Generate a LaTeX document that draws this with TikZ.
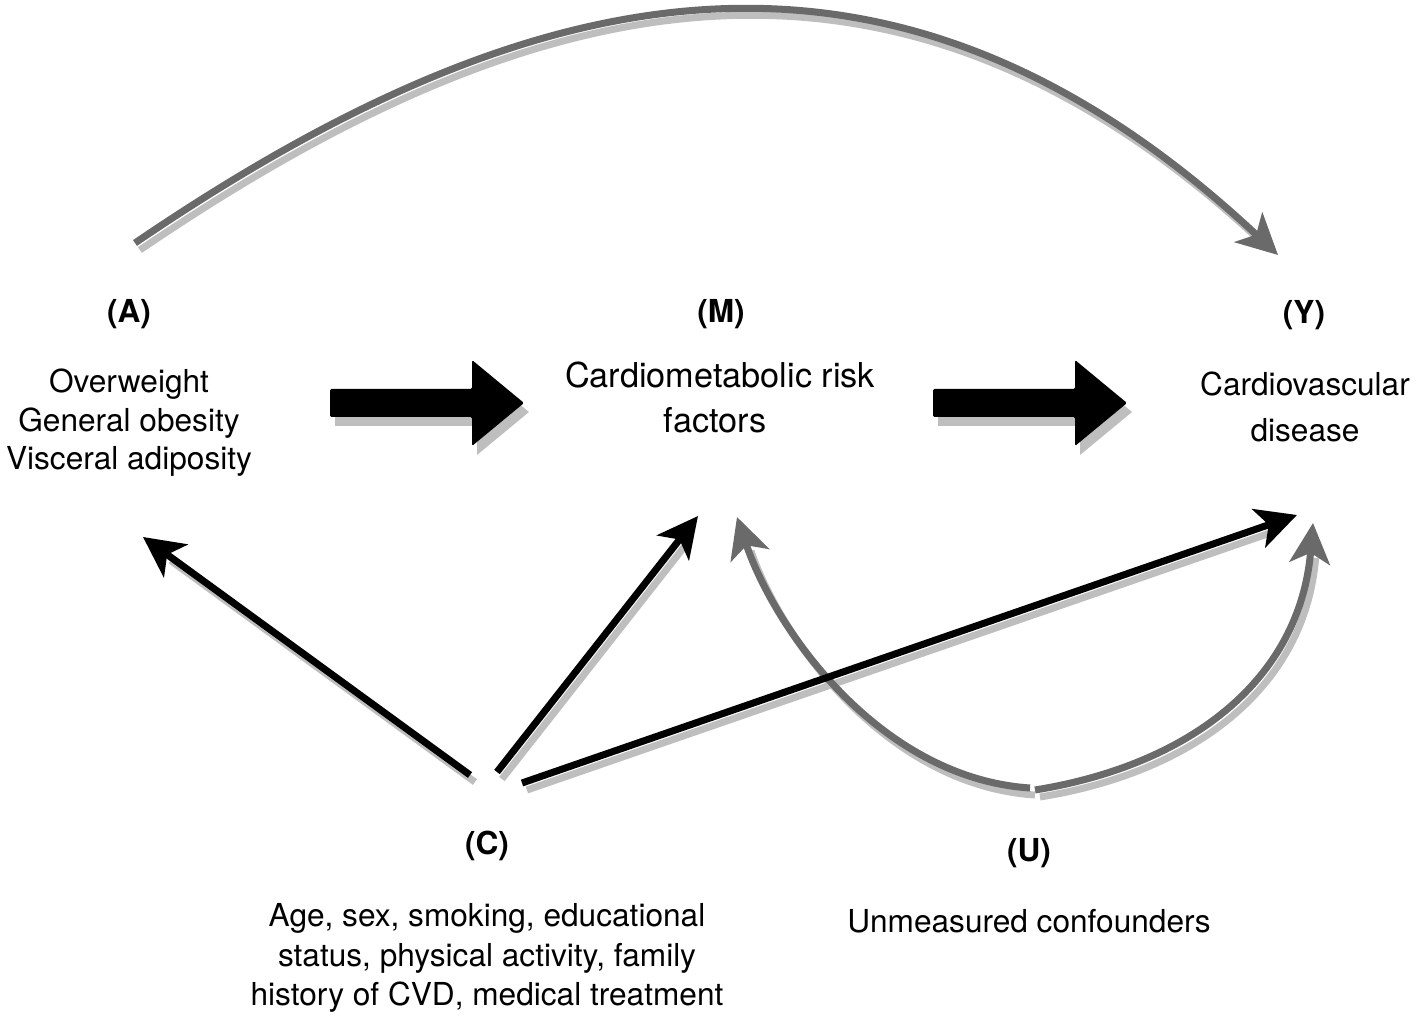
\documentclass[tikz,border=0pt]{standalone}
\usepackage{fontspec}
\setmainfont{TeX Gyre Heros}
\usetikzlibrary{arrows.meta}
\definecolor{arcgray}{HTML}{6A6A6A}
\definecolor{shadegray}{HTML}{BEBEBE}
\tikzset{
  txt/.style={inner sep=0pt, anchor=base, font=\fontsize{18}{22}\selectfont},
  bigtxt/.style={inner sep=0pt, anchor=base, font=\fontsize{19.5}{23}\selectfont},
  lbl/.style={inner sep=0pt, anchor=base, font=\fontsize{18}{22}\selectfont\bfseries},
  headtip/.style={-{Stealth[length=23pt,width=23pt,inset=6pt]}},
  blackarrow/.style={line width=4pt, draw=black, headtip},
  grayarrow/.style={line width=4pt, draw=arcgray, headtip},
  shade/.style={line width=4pt, draw=shadegray, shorten >=16pt,
    transform canvas={xshift=2.8pt,yshift=-4pt}},
  pics/blockarr/.style={code={
    \fill[shadegray] (5,-5) -- (147,-5) -- (147,-34) -- (199,9) -- (147,52) -- (147,23) -- (5,23) -- cycle;
    \fill[black, rounded corners=0.8pt] (0,-14) -- (142,-14) -- (142,-43) -- (194,0) -- (142,43) -- (142,14) -- (0,14) -- cycle;
  }}
}
\begin{document}
\begin{tikzpicture}[x=0.02cm,y=-0.02cm]
\useasboundingbox (0,0) rectangle (1416,1016);

% labels and texts
\node[lbl] (Alab) at (129,323) {(A)};
\node[txt] (A1) at (129,393) {Overweight};
\node[txt] (A2) at (129,432) {General obesity};
\node[txt] (A3) at (129,470) {Visceral adiposity};
\node[lbl] (Mlab) at (721,323) {(M)};
\node[bigtxt] (M1) at (720,388) {Cardiometabolic risk};
\node[bigtxt] (M2) at (715,433) {factors};
\node[lbl] (Ylab) at (1304,324) {(Y)};
\node[txt] (Y1) at (1305,396) {Cardiovascular};
\node[txt] (Y2) at (1305,442) {disease};
\node[lbl] (Clab) at (487,854) {(C)};
\node[txt] (C1) at (487,926) {Age, sex, smoking, educational};
\node[txt] (C2) at (487,966) {status, physical activity, family};
\node[txt] (C3) at (487,1005) {history of CVD, medical treatment};
\node[lbl] (Ulab) at (1029,861) {(U)};
\node[txt] (U1) at (1029,932) {Unmeasured confounders};

% arrow end points
\coordinate (a0) at (135,243);
\coordinate (y0) at (1278,255);
\coordinate (c1) at (470,775);
\coordinate (c2) at (497,772);
\coordinate (c3) at (522,783);
\coordinate (aT) at (143,537);
\coordinate (mT) at (698,516);
\coordinate (yT) at (1297,515);
\coordinate (u1) at (1030,788);
\coordinate (u2) at (1035,790);
\coordinate (mU) at (737,517);
\coordinate (yU) at (1313,523);

% block arrows
\pic (AM) at (330,403) {blockarr};
\pic (MY) at (933,403) {blockarr};

% shadows
\draw[shade] (a0) .. controls (526,-23) and (887,-111) .. (y0);
\draw[shade] (u1) .. controls (880,778) and (775,630) .. (mU);
\draw[shade] (u2) .. controls (1190,765) and (1300,680) .. (yU);
\draw[shade] (c1) -- (aT);
\draw[shade] (c2) -- (mT);
\draw[shade] (c3) -- (yT);

% arrows
\draw[grayarrow] (a0) .. controls (526,-23) and (887,-111) .. (y0);
\draw[grayarrow] (u1) .. controls (880,778) and (775,630) .. (mU);
\draw[grayarrow] (u2) .. controls (1190,765) and (1300,680) .. (yU);
\draw[blackarrow] (c1) -- (aT);
\draw[blackarrow] (c2) -- (mT);
\draw[blackarrow] (c3) -- (yT);
\end{tikzpicture}
\end{document}
